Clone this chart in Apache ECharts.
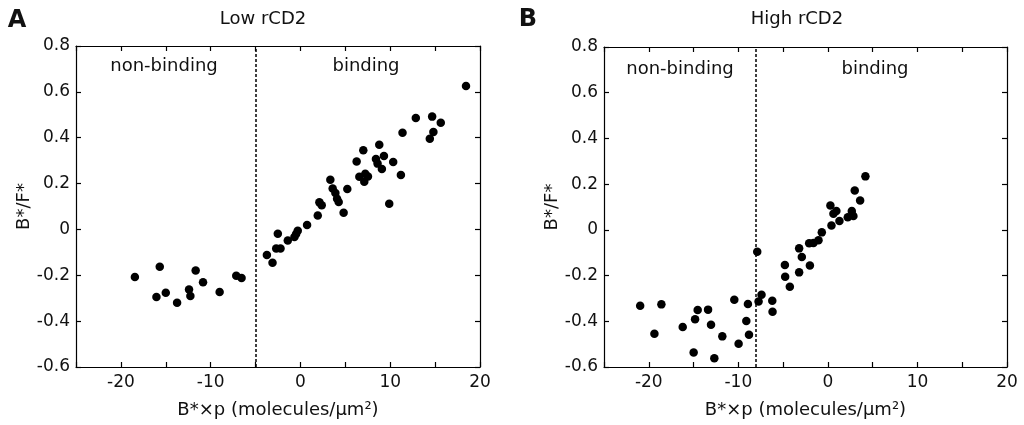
<!DOCTYPE html>
<html>
<head>
<meta charset="utf-8">
<script src="https://cdn.jsdelivr.net/npm/echarts@6/dist/echarts.min.js"></script>
<style>html,body{margin:0;padding:0;background:#fff}#c{width:1024px;height:425px}</style>
</head>
<body>
<div id="c"></div>
<script>
var lowX = [-18.44,-15.67,-16.04,-15.0,-13.74,-12.41,-12.26,-11.67,-10.85,-9.0,-7.15,-6.56,
  -3.74,-3.11,-2.52,-2.70,-2.22,-1.41,-0.67,-0.48,-0.30,0.74,1.93,2.11,2.37,3.33,3.59,3.89,4.08,4.26,4.81,5.22,
  6.26,6.56,7.0,7.11,7.22,7.52,8.41,8.59,8.78,9.07,9.30,9.89,10.33,11.19,11.37,12.85,14.41,14.67,14.81,15.63,18.44];
var lowY = [-0.207,-0.163,-0.295,-0.276,-0.320,-0.262,-0.290,-0.179,-0.230,-0.273,-0.202,-0.212,
  -0.112,-0.145,-0.019,-0.083,-0.083,-0.048,-0.033,-0.020,-0.006,0.019,0.061,0.118,0.105,0.217,0.178,0.159,0.134,0.120,0.073,0.176,
  0.296,0.230,0.345,0.208,0.243,0.231,0.307,0.287,0.369,0.264,0.320,0.112,0.294,0.237,0.422,0.486,0.395,0.492,0.425,0.465,0.626];
var highX = [-20.96,-19.37,-18.59,-16.21,-14.99,-14.83,-14.54,-13.38,-13.05,-12.68,-11.79,-10.45,-9.97,-9.11,-8.93,-8.81,
  -7.89,-7.74,-7.41,-6.21,-6.18,-4.80,-4.77,-4.25,-3.21,-3.21,-2.91,-2.09,-2.01,-1.61,-1.05,-0.68,
  0.28,0.40,0.62,0.95,1.29,2.22,2.67,2.85,3.00,3.60,4.19];
var highY = [-0.332,-0.455,-0.326,-0.425,-0.537,-0.391,-0.351,-0.349,-0.415,-0.562,-0.466,-0.306,-0.498,-0.399,-0.324,-0.459,
  -0.096,-0.313,-0.284,-0.310,-0.358,-0.154,-0.205,-0.249,-0.081,-0.186,-0.119,-0.059,-0.156,-0.057,-0.045,-0.011,
  0.107,0.019,0.070,0.082,0.039,0.055,0.082,0.061,0.172,0.128,0.234];
var boundaryLow = -5;
var boundaryHigh = -8;
var xTickLabels = [-20,-10,0,10,20];
var panelTitles = ['Low rCD2','High rCD2'];
var panelLetters = ['A','B'];
var regionLabels = ['non-binding','binding'];
var xName = 'B*×p (molecules/μm²)';
var yName = 'B*/F*';

var FONT = 'DejaVu Sans';
function pairs(xs, ys){ return xs.map(function(v,i){ return [v, ys[i]]; }); }

function xAxes(gi){
  var base = {gridIndex: gi, type:'value', min:-25, max:20, interval:5,
    axisLine:{show:true, onZero:false, lineStyle:{color:'#000', width:1.2}},
    axisTick:{show:true, inside:true, length:5, lineStyle:{color:'#000', width:1.2}},
    splitLine:{show:false}};
  return [
    Object.assign({}, base, {position:'bottom',
      axisLabel:{show:true, margin:7, color:'#111', fontFamily:FONT, fontSize:17,
        formatter:function(v){ return xTickLabels.indexOf(v) >= 0 ? String(v) : ''; }},
      name:xName, nameLocation:'middle', nameGap:34,
      nameTextStyle:{color:'#111', fontFamily:FONT, fontSize:18}}),
    Object.assign({}, base, {position:'top', axisLabel:{show:false}})
  ];
}
function yAxes(gi){
  var base = {gridIndex: gi, type:'value', min:-0.6, max:0.8, interval:0.2,
    axisLine:{show:true, onZero:false, lineStyle:{color:'#000', width:1.2}},
    axisTick:{show:true, inside:true, length:5, lineStyle:{color:'#000', width:1.2}},
    splitLine:{show:false}};
  return [
    Object.assign({}, base, {position:'left',
      axisLabel:{show:true, margin:6, color:'#111', fontFamily:FONT, fontSize:17,
        formatter:function(v){ return String(Math.round(v*10)/10); }},
      name:yName, nameLocation:'middle', nameGap:43, nameRotate:90,
      nameTextStyle:{color:'#111', fontFamily:FONT, fontSize:18}}),
    Object.assign({}, base, {position:'right', axisLabel:{show:false}})
  ];
}

function scatter(gi, data, boundary){
  return {type:'scatter', xAxisIndex: gi*2, yAxisIndex: gi*2, data: data,
    symbol:'circle', symbolSize:8.5, itemStyle:{color:'#000', opacity:1},
    markLine:{silent:true, symbol:'none', label:{show:false},
      lineStyle:{color:'#000', type:[3,2], width:1.5},
      data:[{xAxis: boundary}]}};
}

function txt(x, y, s, size, bold){
  return {type:'text', x:x, y:y, style:{text:s, fill:'#111', font:(bold?'bold ':'')+size+'px "'+FONT+'"',
    textAlign:'center', textVerticalAlign:'middle'}};
}

var chart = echarts.init(document.getElementById('c'), null, {renderer:'canvas'});
chart.setOption({
  animation:false,
  grid:[{left:76, right:544, top:46, bottom:58},{left:604, right:17, top:47, bottom:58}],
  xAxis: xAxes(0).concat(xAxes(1)),
  yAxis: yAxes(0).concat(yAxes(1)),
  series:[scatter(0, pairs(lowX, lowY), boundaryLow), scatter(1, pairs(highX, highY), boundaryHigh)],
  graphic:[
    txt(17, 21, panelLetters[0], 24, true),
    txt(528, 20, panelLetters[1], 24, true),
    txt(263, 19, panelTitles[0], 18),
    txt(797, 19, panelTitles[1], 18),
    txt(164, 66, regionLabels[0], 18),
    txt(366, 66, regionLabels[1], 18),
    txt(680, 69, regionLabels[0], 18),
    txt(875, 69, regionLabels[1], 18)
  ]
});
</script>
</body>
</html>
